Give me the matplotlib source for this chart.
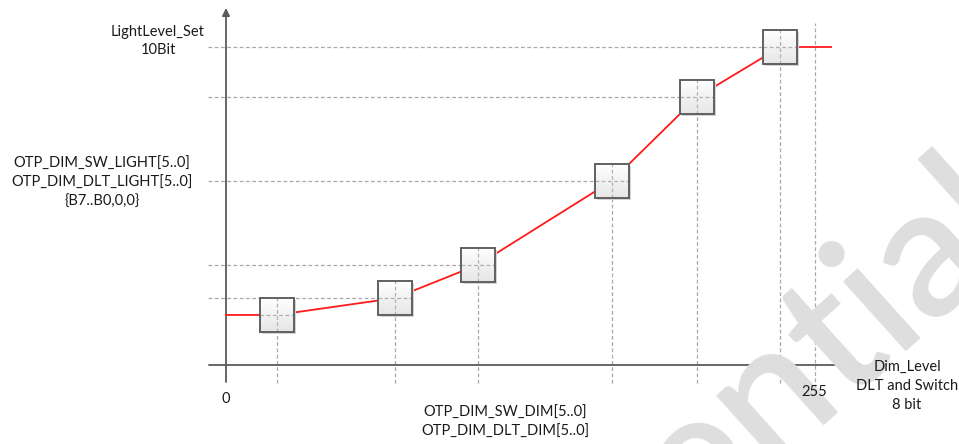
import numpy as np
import matplotlib.pyplot as plt
from matplotlib.patches import Rectangle
from matplotlib.colors import LinearSegmentedColormap

# dimming curve steps (Dim_Level 0..255 -> LightLevel 0..1023)
step_dim = [22, 73, 109, 167, 204, 240]
step_light = [161, 215, 322, 592, 862, 1023]
dim_max = 255
line_start = (0, 161)
line_end = (262, 1023)

W, H = 959, 444
fig = plt.figure(figsize=(W / 100, H / 100), dpi=100)
ax = fig.add_axes([0, 0, 1, 1])
ax.axis("off")

# pixel mapping: x=0 at 226px, x=255 at 815px; y=0 at 365px, y=1023 at 47px
sx = 589 / 255
sy = 318 / 1023
xlim = (-226 / sx, (W - 226) / sx)
ylim = ((365 - H) / sy, 365 / sy)

plt.rcParams["font.family"] = ["Lato", "DejaVu Sans"]

# watermark
fig.text(1030 / W, 1 - 232 / H, "Confidential", fontsize=132, color="#dedede",
         fontweight="semibold", rotation=42, rotation_mode="anchor",
         ha="right", va="baseline", zorder=0)

grid_kw = dict(color="#a8a8a8", lw=0.9, ls=(0, (3, 2)), zorder=2)
x_left = -18 / sx
y_bottom = -18 / sy
# horizontal guides
for d, l in zip(step_dim[1:], step_light[1:]):
    ax.plot([x_left, d], [l, l], **grid_kw)
# vertical guides
for d, l in zip(step_dim, step_light):
    ax.plot([d, d], [y_bottom, l], **grid_kw)
ax.plot([dim_max, dim_max], [-23 / sy, 342 / sy], **grid_kw)

# axes with arrows
axis_col = "#5a5a5a"
arr = dict(arrowstyle="-|>", color=axis_col, lw=1.3, mutation_scale=11,
           shrinkA=0, shrinkB=0)
ax.annotate("", xy=(0, 357 / sy), xytext=(0, -17 / sy), arrowprops=arr, zorder=3)
ax.annotate("", xy=(637 / sx, 0), xytext=(-17 / sx, 0), arrowprops=arr, zorder=3)

# red curve
xs = [line_start[0]] + step_dim + [line_end[0]]
ys = [line_start[1]] + step_light + [line_end[1]]
ax.plot(xs, ys, color="#ff1a1a", lw=1.3, zorder=4)

# boxes with gradient fill and soft shadow
bw, bh = 34 / sx, 34 / sy
cmap = LinearSegmentedColormap.from_list("box", ["#e6e6e6", "#ffffff"])
grad = np.linspace(0, 1, 64).reshape(-1, 1)
for d, l in zip(step_dim, step_light):
    ax.add_patch(Rectangle((d - bw / 2 + 2 / sx, l - bh / 2 - 2 / sy), bw, bh,
                           facecolor="#d4d4d4", edgecolor="none", zorder=5))
    ax.imshow(grad, extent=[d - bw / 2, d + bw / 2, l - bh / 2, l + bh / 2],
              cmap=cmap, aspect="auto", origin="lower", zorder=6)
    ax.add_patch(Rectangle((d - bw / 2, l - bh / 2), bw, bh, facecolor="none",
                           edgecolor="#606060", lw=1.4, zorder=8))
    # guides visible through the box
    ax.plot([d - bw / 2, d + bw / 2], [l, l], color="#b0b0b0", lw=0.9,
            ls=(0, (3, 2)), zorder=7)
    ax.plot([d, d], [l - bh / 2, l + bh / 2], color="#b0b0b0", lw=0.9,
            ls=(0, (3, 2)), zorder=7)

ax.set_xlim(*xlim)
ax.set_ylim(*ylim)

# labels
fs = 10.5
def label(px, py, s, **kw):
    fig.text(px / W, 1 - py / H, s, fontsize=fs, color="#1a1a1a", ha="center",
             va="center", linespacing=1.45, zorder=10, **kw)

label(158, 41, "LightLevel_Set\n10Bit")
label(102, 183, "OTP_DIM_SW_LIGHT[5..0]\nOTP_DIM_DLT_LIGHT[5..0]\n{B7..B0,0,0}")
label(226, 399, "0")
label(505, 422, "OTP_DIM_SW_DIM[5..0]\nOTP_DIM_DLT_DIM[5..0]")
label(814, 392, "255")
label(907, 386, "Dim_Level\nDLT and Switch\n8 bit")

fig.savefig("out.png", dpi=100)
